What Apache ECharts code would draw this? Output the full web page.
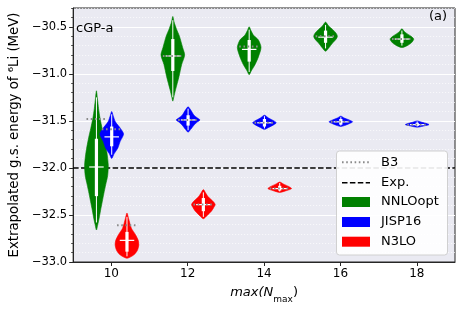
<!DOCTYPE html>
<html><head><meta charset="utf-8">
<script src="https://cdn.jsdelivr.net/npm/echarts@6/dist/echarts.min.js"></script>
<style>html,body{margin:0;padding:0;background:#fff}#c{width:463px;height:309px}</style>
</head><body><div id="c"></div>
<script>
// ---------------- data ----------------
const xTicks = [10, 12, 14, 16, 18];
const yTicks = [-33.0, -32.5, -32.0, -31.5, -31.0, -30.5];
const expEnergy = -32.0;
const legendLabels = ['B3', 'Exp.', 'NNLOopt', 'JISP16', 'N3LO'];

// profiles: [energy, relative density] from top tip to bottom tip
const nnloX = [10, 12, 14, 16, 18];
const nnloProfiles = [
  [[-31.18,0],[-31.26,0.08],[-31.37,0.18],[-31.47,0.3],[-31.58,0.48],[-31.68,0.66],[-31.83,0.88],[-31.97,1.0],[-32.08,0.95],[-32.18,0.78],[-32.27,0.63],[-32.36,0.49],[-32.45,0.35],[-32.54,0.22],[-32.61,0.1],[-32.66,0]],
  [[-30.39,0],[-30.45,0.11],[-30.52,0.3],[-30.60,0.56],[-30.72,0.83],[-30.80,1.0],[-30.90,0.75],[-31.03,0.52],[-31.17,0.23],[-31.25,0.08],[-31.29,0]],
  [[-30.50,0],[-30.54,0.15],[-30.59,0.37],[-30.64,0.78],[-30.72,1.0],[-30.82,0.78],[-30.90,0.5],[-30.97,0.17],[-31.01,0]],
  [[-30.45,0],[-30.49,0.25],[-30.53,0.61],[-30.57,0.9],[-30.60,1.0],[-30.63,0.9],[-30.67,0.61],[-30.72,0.3],[-30.76,0]],
  [[-30.52,0],[-30.55,0.2],[-30.57,0.4],[-30.60,0.77],[-30.63,1.0],[-30.67,0.8],[-30.70,0.45],[-30.72,0]]
];
// [whisker top, q3, median, q1, whisker bottom]
const nnloStats = [
  [-31.25,-31.69,-31.99,-32.30,-32.58],
  [-30.43,-30.63,-30.81,-30.97,-31.25],
  [-30.53,-30.64,-30.74,-30.87,-30.98],
  [-30.48,-30.54,-30.61,-30.67,-30.73],
  [-30.54,-30.58,-30.63,-30.67,-30.70]
];
const nnloB3 = [-31.48, -30.81, -30.71, -30.60, -30.63];

const jispX = [10, 12, 14, 16, 18];
const jispProfiles = [
  [[-31.40,0],[-31.44,0.11],[-31.51,0.31],[-31.58,0.74],[-31.64,1.0],[-31.72,0.71],[-31.79,0.51],[-31.85,0.2],[-31.90,0]],
  [[-31.35,0],[-31.38,0.2],[-31.44,0.5],[-31.47,0.8],[-31.49,1.0],[-31.51,0.8],[-31.54,0.53],[-31.59,0.22],[-31.62,0]],
  [[-31.44,0],[-31.47,0.35],[-31.50,0.8],[-31.52,1.0],[-31.54,0.8],[-31.57,0.35],[-31.59,0]],
  [[-31.45,0],[-31.47,0.3],[-31.49,0.7],[-31.51,1.0],[-31.53,0.7],[-31.55,0.3],[-31.56,0]],
  [[-31.50,0],[-31.515,0.4],[-31.53,0.85],[-31.54,1.0],[-31.55,0.7],[-31.567,0]]
];
const jispStats = [
  [-31.43,-31.56,-31.67,-31.77,-31.86],
  [-31.37,-31.44,-31.49,-31.55,-31.60],
  [-31.45,-31.48,-31.52,-31.56,-31.58],
  [-31.46,-31.48,-31.51,-31.54,-31.55],
  [-31.505,-31.52,-31.54,-31.555,-31.56]
];
const jispB3 = [-31.59, -31.49, -31.52, -31.51, -31.54];

const n3loX = [10, 12, 14];
const n3loProfiles = [
  [[-32.48,0],[-32.54,0.14],[-32.64,0.37],[-32.71,0.72],[-32.77,0.95],[-32.82,1.0],[-32.87,0.9],[-32.91,0.7],[-32.94,0.4],[-32.96,0]],
  [[-32.23,0],[-32.27,0.21],[-32.31,0.43],[-32.36,0.85],[-32.39,1.0],[-32.42,0.88],[-32.46,0.68],[-32.51,0.28],[-32.54,0]],
  [[-32.15,0],[-32.17,0.3],[-32.20,0.8],[-32.22,1.0],[-32.24,0.6],[-32.26,0]]
];
const n3loStats = [
  [-32.52,-32.68,-32.77,-32.89,-32.94],
  [-32.26,-32.32,-32.39,-32.46,-32.52],
  [-32.16,-32.19,-32.22,-32.24,-32.25]
];
const n3loB3 = [-32.61, -32.39, -32.22];

// ---------------- styles ----------------
const FONT = 'DejaVu Sans';
const HALF = 0.31, MED = 0.19, B3W = 0.26;
const GREEN = '#008000', BLUE = '#0000ff', RED = '#ff0000';

function violinSeries(name, color, xs, profiles, stats, b3, offset) {
  return {
    name, type: 'custom', coordinateSystem: 'cartesian2d', z: 3,
    xAxisIndex: 0, yAxisIndex: 0,
    data: xs.map((x, i) => [x, i]),
    encode: { x: 0 },
    renderItem(params, api) {
      const i = api.value(1);
      const xc = api.value(0) + offset;
      const prof = profiles[i];
      const left = prof.map(p => api.coord([xc - HALF * p[1], p[0]]));
      const right = prof.slice(1, -1).reverse().map(p => api.coord([xc + HALF * p[1], p[0]]));
      const st = stats[i];
      const top = api.coord([xc, st[0]]), bot = api.coord([xc, st[4]]);
      const q3 = api.coord([xc, st[1]]), q1 = api.coord([xc, st[3]]);
      const mL = api.coord([xc - MED, st[2]]), mR = api.coord([xc + MED, st[2]]);
      const bL = api.coord([xc - B3W, b3[i]]), bR = api.coord([xc + B3W, b3[i]]);
      return { type: 'group', children: [
        { type: 'polygon', shape: { points: left.concat(right), smooth: 0.25 }, style: { fill: color, stroke: color, lineWidth: 0.6 } },
        { type: 'line', shape: { x1: top[0], y1: top[1], x2: bot[0], y2: bot[1] }, style: { stroke: '#fff', lineWidth: 1 } },
        { type: 'line', shape: { x1: q3[0], y1: q3[1], x2: q1[0], y2: q1[1] }, style: { stroke: '#fff', lineWidth: 3.2 } },
        { type: 'line', shape: { x1: mL[0], y1: mL[1], x2: mR[0], y2: mR[1] }, style: { stroke: '#fff', lineWidth: 1.2 } },
        { type: 'line', shape: { x1: bL[0], y1: bL[1], x2: bR[0], y2: bR[1] }, style: { stroke: '#8a8a8a', lineWidth: 2, lineDash: [1.6, 2.6] } }
      ]};
    }
  };
}

const chart = echarts.init(document.getElementById('c'), null, { renderer: 'canvas' });
const fmt = v => (v < 0 ? '\u2212' : '') + Math.abs(v).toFixed(1);

const lx1 = 342, lx2 = 370, ltx = 381;
const ly = [162.3, 182.7, 202, 222, 241.7];
const legendGraphic = [
  { type: 'rect', z: 100, shape: { x: 336.5, y: 151, width: 111, height: 104, r: 3 }, style: { fill: 'rgba(255,255,255,0.9)', stroke: '#d0d0d0', lineWidth: 1 } },
  { type: 'line', z: 101, shape: { x1: lx1, y1: ly[0], x2: lx2, y2: ly[0] }, style: { stroke: '#8a8a8a', lineWidth: 2, lineDash: [1.6, 2.6] } },
  { type: 'line', z: 101, shape: { x1: lx1, y1: ly[1], x2: lx2, y2: ly[1] }, style: { stroke: '#000', lineWidth: 1.5, lineDash: [5.5, 2.4] } },
  { type: 'rect', z: 101, shape: { x: lx1, y: ly[2] - 5, width: lx2 - lx1, height: 10 }, style: { fill: GREEN } },
  { type: 'rect', z: 101, shape: { x: lx1, y: ly[3] - 5, width: lx2 - lx1, height: 10 }, style: { fill: BLUE } },
  { type: 'rect', z: 101, shape: { x: lx1, y: ly[4] - 5, width: lx2 - lx1, height: 10 }, style: { fill: RED } }
].concat(legendLabels.map((t, k) => ({
  type: 'text', z: 101, x: ltx, y: ly[k],
  style: { text: t, fill: '#000', font: '13px "DejaVu Sans"', textVerticalAlign: 'middle', textAlign: 'left' }
}))).concat([
  { type: 'text', z: 50, x: 76, y: 29, style: { text: 'cGP-a', fill: '#000', font: '13px "DejaVu Sans"', textVerticalAlign: 'middle' } },
  { type: 'text', z: 50, x: 447, y: 17, style: { text: '(a)', fill: '#000', font: '13px "DejaVu Sans"', textVerticalAlign: 'middle', textAlign: 'right' } }
]);

const option = {
  animation: false,
  textStyle: { fontFamily: FONT },
  grid: { left: 71, top: 8, right: 8, bottom: 47, show: true, backgroundColor: '#eaeaf2', borderColor: '#262626', borderWidth: 1, containLabel: false },
  xAxis: [{
    type: 'value', min: 9, max: 19,
    name: '{i|max(N}{s|max}{r|)}', nameLocation: 'middle', nameGap: 24,
    nameTextStyle: { rich: {
      i: { fontStyle: 'italic', fontSize: 13, fontFamily: FONT, color: '#000', verticalAlign: 'top', lineHeight: 18 },
      s: { fontSize: 9, fontFamily: FONT, color: '#000', verticalAlign: 'bottom', lineHeight: 18, padding: [6, 0, 0, 0] },
      r: { fontSize: 13, fontFamily: FONT, color: '#000', verticalAlign: 'top', lineHeight: 18 }
    } },
    axisLine: { show: true, lineStyle: { color: '#262626', width: 1 } },
    axisTick: { show: true, length: 4, lineStyle: { color: '#262626' }, customValues: xTicks },
    axisLabel: { show: true, customValues: xTicks, fontSize: 12, color: '#000', margin: 6, fontFamily: FONT, formatter: v => String(v) },
    splitLine: { show: false }
  }],
  yAxis: [{
    type: 'value', min: -33, max: -30.3, interval: 0.5, position: 'left',
    name: 'Extrapolated g.s. energy of \u2076Li (MeV)', nameLocation: 'middle', nameRotate: 90, nameGap: 47,
    nameTextStyle: { fontSize: 13.3, color: '#000', fontFamily: FONT },
    axisLine: { show: true, lineStyle: { color: '#262626', width: 1 } },
    axisTick: { show: true, length: 4, lineStyle: { color: '#262626' }, customValues: yTicks },
    axisLabel: { show: true, customValues: yTicks, fontSize: 11.5, color: '#000', margin: 6, fontFamily: FONT, formatter: fmt },
    splitLine: { show: true, lineStyle: { color: '#ffffff', width: 1.2 } }
  }, {
    type: 'value', min: -33, max: -30.3, interval: 0.1, position: 'left', offset: 0,
    axisLine: { show: false },
    axisTick: { show: true, length: 2, lineStyle: { color: '#262626', width: 0.8 } },
    axisLabel: { show: false },
    splitLine: { show: true, lineStyle: { color: '#ffffff', width: 0.8, type: [1, 2] } }
  }],
  series: [
    { name: 'Exp.', type: 'line', xAxisIndex: 0, yAxisIndex: 0, z: 2, symbol: 'none', silent: true,
      data: [[9, expEnergy], [19, expEnergy]], lineStyle: { color: '#000', width: 1.5, type: [5.5, 2.4] } },
    violinSeries('NNLOopt', GREEN, nnloX, nnloProfiles, nnloStats, nnloB3, -0.39),
    violinSeries('JISP16', BLUE, jispX, jispProfiles, jispStats, jispB3, 0.01),
    violinSeries('N3LO', RED, n3loX, n3loProfiles, n3loStats, n3loB3, 0.41)
  ],
  graphic: legendGraphic
};
chart.setOption(option);
</script>
</body></html>
